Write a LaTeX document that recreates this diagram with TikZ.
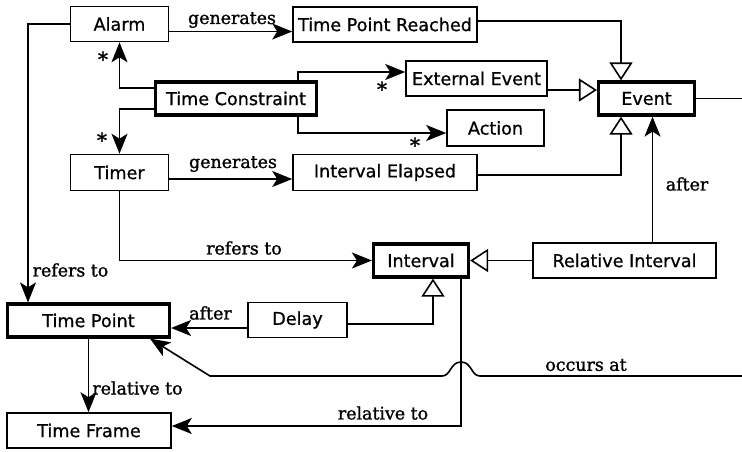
\documentclass[tikz,border=0pt]{standalone}
\usepackage{fontspec}
\setmainfont{DejaVu Sans}
\newfontfamily\clsfont{DejaVu Sans}[FakeBold=0.8]
\newfontfamily\relfont{DejaVu Serif}[FakeBold=1.3]
\usepackage{tikz}
\usetikzlibrary{arrows.meta}

\begin{document}
\begin{tikzpicture}[x=0.5pt,y=-0.5pt,line width=0.8pt,
  >={Stealth[length=10pt,width=8pt,inset=2.5pt]},
  cls/.style={draw,inner sep=0pt,minimum height=17.5pt,font=\clsfont\fontsize{8.8}{10}\selectfont},
  core/.style={cls,line width=1.6pt,minimum height=16.5pt},
  gen/.style={-{Triangle[open,length=9pt,width=11.5pt,line width=0.8pt]}},
  rel/.style={font=\relfont\fontsize{8.7}{10}\selectfont,inner sep=0pt}]
  \useasboundingbox (0,0) rectangle (742,451);

  \node[cls,minimum width=49pt] (alarm) at (119.5,24) {Alarm};
  \node[cls,minimum width=92pt] (tpr) at (385,24.5) {Time Point Reached};
  \node[core,minimum width=80.5pt] (tc) at (236,98.5) {Time Constraint};
  \node[cls,minimum width=70.5pt] (ext) at (476.5,78.5) {External Event};
  \node[core,minimum width=48pt] (event) at (646.5,98.5) {Event};
  \node[cls,minimum width=48.5pt,minimum height=18pt] (action) at (495.5,128) {Action};
  \node[cls,minimum width=49pt,minimum height=18pt] (timer) at (119.5,172.5) {Timer};
  \node[cls,minimum width=92pt,minimum height=18pt] (ie) at (385,172.5) {Interval Elapsed};
  \node[core,minimum width=47.5pt] (interval) at (421,260.5) {Interval};
  \node[cls,minimum width=91.5pt] (relint) at (624.5,260.5) {Relative Interval};
  \node[core,minimum width=81pt] (tpoint) at (88.5,320.5) {Time Point};
  \node[cls,minimum width=49.5pt] (delay) at (297.5,320) {Delay};
  \node[cls,minimum width=82pt] (tframe) at (89,430.5) {Time Frame};

  \coordinate (eout) at (742,98.5);
  \coordinate (oin) at (742,376);

  \draw[->] (alarm.west) -| ([xshift=-30.25pt]tpoint.north);
  \draw[->] ([yshift=-3.75pt]alarm.east) -- ([yshift=-3.75pt]alarm.east -| tpr.west);
  \draw[->] ([yshift=5.25pt]tc.west) -| (alarm.south);
  \draw[->] ([yshift=-5.25pt]tc.west) -| (timer.north);
  \draw[->] ([xshift=31pt]tc.north) |- ([yshift=3.25pt]ext.west);
  \draw[->] ([xshift=31pt]tc.south) |- ([yshift=-2.5pt]action.west);
  \draw[gen] ([yshift=1.75pt]tpr.east) -| ([xshift=-12.75pt]event.north);
  \draw[gen] ([yshift=-5.75pt]ext.east) -- ([yshift=-5.75pt]ext.east -| event.west);
  \draw[gen] ([yshift=-1.25pt]ie.east) -| ([xshift=-12.75pt]event.south);
  \draw[->] ([xshift=3pt]event.south |- relint.north) -- ([xshift=3pt]event.south);
  \draw (event.east) -- (eout);
  \draw[gen] (relint.west) -- (interval.east);
  \draw[->] ([yshift=-3.25pt]timer.east) -- ([yshift=-3.25pt]timer.east -| ie.west);
  \draw[->] (timer.south) |- (interval.west);
  \draw[gen] ([yshift=-2pt]delay.east) -| ([xshift=6pt]interval.south);
  \draw[->] ([yshift=-4pt]delay.west) -- ([yshift=-4pt]delay.west -| tpoint.east);
  \draw[->] ([xshift=20pt]interval.south) |- ([yshift=2.25pt]tframe.east);
  \draw[->] (tpoint.south) -- (tpoint.south |- tframe.north);
  \draw[->] (oin) -- (480,376) .. controls (471,376) and (472,362) .. (461,362)
    .. controls (450,362) and (451,376) .. (442,376) -- (210,376)
    -- ([xshift=30.75pt]tpoint.south);

  \node[rel] (lgen1) at (232,20) {generates};
  \node[rel] (lgen2) at (233,164) {generates};
  \node[rel] (lref1) at (244,248) {refers to};
  \node[rel] (lref2) at (70.5,270) {refers to};
  \node[rel] (lafter1) at (687,184) {after};
  \node[rel] (lafter2) at (210.5,313) {after};
  \node[rel] (lrelto1) at (137.5,388) {relative to};
  \node[rel] (lrelto2) at (383,413) {relative to};
  \node[rel] (locc) at (586,365) {occurs at};
  \node[rel,font=\relfont\fontsize{10}{10}\selectfont] (m1) at (103,59) {*};
  \node[rel,font=\relfont\fontsize{10}{10}\selectfont] (m2) at (102,140) {*};
  \node[rel,font=\relfont\fontsize{10}{10}\selectfont] (m3) at (382,89) {*};
  \node[rel,font=\relfont\fontsize{10}{10}\selectfont] (m4) at (415,145) {*};
\end{tikzpicture}
\end{document}
